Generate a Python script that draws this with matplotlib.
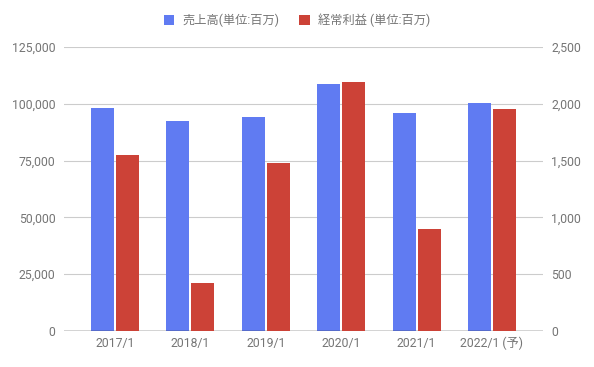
"""
Sales and ordinary profit by fiscal year (dual axis bars).
"""

import numpy as np
import matplotlib
matplotlib.use("Agg")
import matplotlib.pyplot as plt
from matplotlib.ticker import FuncFormatter

plt.rcParams['font.family'] = ['Roboto', 'Noto Sans CJK JP', 'DejaVu Sans']

years = ["2017/1", "2018/1", "2019/1", "2020/1", "2021/1", "2022/1 (予)"]
sales = [98000, 92300, 94100, 108600, 95800, 100200]      # left axis
profit = [1550, 426, 1475, 2190, 900, 1952]               # right axis

BLUE = "#607bf2"
RED = "#cc4237"
GRAY = "#757575"


def main():
    fig = plt.figure(figsize=(5.94, 3.67), dpi=100)
    ax = fig.add_axes([0.1077, 0.0981, 0.8064, 0.774])
    ax2 = ax.twinx()

    x = np.arange(len(years))
    w = 0.305
    gap = 0.027
    ax.bar(x - w / 2 - gap / 2, sales, width=w, color=BLUE, zorder=3,
           label="売上高(単位:百万)")
    ax2.bar(x + w / 2 + gap / 2, profit, width=w, color=RED, zorder=3,
            label="経常利益 (単位:百万)")

    ax.set_xlim(-0.676, len(years) - 1 + 0.676)
    ax.set_ylim(0, 125000)
    ax2.set_ylim(0, 2500)
    ax.set_yticks(np.arange(0, 125001, 25000))
    ax2.set_yticks(np.arange(0, 2501, 500))
    fmt = FuncFormatter(lambda v, p: f"{int(v):,}")
    ax.yaxis.set_major_formatter(fmt)
    ax2.yaxis.set_major_formatter(fmt)

    ax.set_xticks(x)
    ax.set_xticklabels(years)
    ax.grid(axis="y", color="#cccccc", linewidth=0.8, zorder=0)
    ax.set_axisbelow(True)

    for a in (ax, ax2):
        for s in a.spines.values():
            s.set_visible(False)
        a.tick_params(length=0, labelsize=8.8, labelcolor=GRAY)
    ax.tick_params(axis="y", pad=6)
    ax2.tick_params(axis="y", pad=6)
    ax.tick_params(axis="x", pad=4)
    ax.axhline(0, color="#333333", linewidth=1.0, zorder=4)

    h1, l1 = ax.get_legend_handles_labels()
    h2, l2 = ax2.get_legend_handles_labels()
    fig.legend(h1 + h2, l1 + l2, loc="center", bbox_to_anchor=(0.5, 0.945),
               ncol=2, frameon=False, fontsize=8.8, labelcolor=GRAY,
               handlelength=0.85, handleheight=0.85, handletextpad=0.7,
               columnspacing=1.6)

    fig.savefig("out.png", dpi=100)


if __name__ == "__main__":
    main()
